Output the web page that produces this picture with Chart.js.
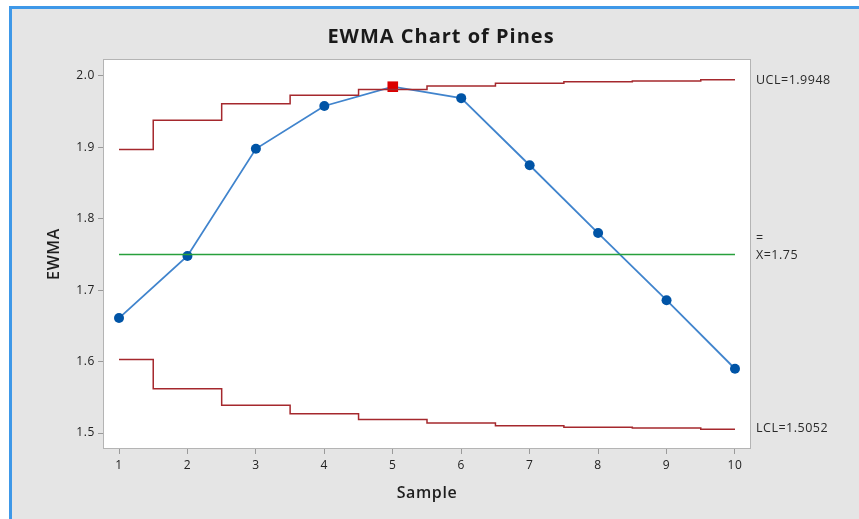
<!DOCTYPE html>
<html>
<head>
<meta charset="utf-8">
<script src="https://cdn.jsdelivr.net/npm/chart.js@4.4.1/dist/chart.umd.min.js"></script>
<style>
  html, body { margin: 0; padding: 0; background: #fff; }
  canvas { display: block; }
</style>
</head>
<body>
<canvas id="ewmaChart" width="859" height="519"></canvas>
<script>
var samples = [1, 2, 3, 4, 5, 6, 7, 8, 9, 10];
var ewma = [1.661, 1.748, 1.898, 1.958, 1.985, 1.969, 1.875, 1.780, 1.686, 1.590];
var ucl = [1.897, 1.938, 1.961, 1.973, 1.981, 1.986, 1.990, 1.992, 1.993, 1.9948];
var lcl = [1.603, 1.562, 1.539, 1.527, 1.519, 1.514, 1.510, 1.508, 1.507, 1.5052];
var center = 1.75;
var outOfControl = [5];
var limitLabels = { ucl: 'UCL=1.9948', center: 'X=1.75', lcl: 'LCL=1.5052' };

var FONT = "'Open Sans', 'Noto Sans', sans-serif";
var stepRed = 'rgb(165, 40, 45)';

function pts(ys) {
  return samples.map(function (s, i) { return { x: s, y: ys[i] }; });
}

var frame = {
  id: 'frame',
  beforeDraw: function (chart) {
    var c = chart.ctx, a = chart.chartArea;
    c.fillStyle = '#ffffff';
    c.fillRect(0, 0, chart.width, chart.height);
    c.fillStyle = 'rgb(62, 152, 232)';
    c.fillRect(9, 6, chart.width - 9, chart.height - 6);
    c.fillStyle = '#e5e5e5';
    c.fillRect(12, 9, chart.width - 12, chart.height - 9);
    c.fillStyle = '#ffffff';
    c.fillRect(a.left, a.top, a.right - a.left, a.bottom - a.top);
    // the source picture is a little stretched sideways
    c.letterSpacing = '0.6px';
  },
  afterDraw: function (chart) {
    var c = chart.ctx, a = chart.chartArea, y = chart.scales.y;
    c.save();
    c.strokeStyle = '#b4b4b4';
    c.lineWidth = 1;
    c.strokeRect(a.left + 0.5, a.top + 0.5, a.right - a.left - 1, a.bottom - a.top - 1);

    c.fillStyle = '#1a1a1a';
    c.font = 'bold 20px ' + FONT;
    c.letterSpacing = '1px';
    c.textAlign = 'center';
    c.textBaseline = 'middle';
    c.fillText('EWMA Chart of Pines', 441, 37);

    c.fillStyle = '#2a2a2a';
    c.font = '12.5px ' + FONT;
    c.letterSpacing = '0.5px';
    c.textAlign = 'left';
    var lx = a.right + 5;
    c.fillText(limitLabels.ucl, lx, y.getPixelForValue(ucl[ucl.length - 1]) + 1);
    c.fillText('=', lx, y.getPixelForValue(center) - 16);
    c.fillText(limitLabels.center, lx, y.getPixelForValue(center) + 1);
    c.fillText(limitLabels.lcl, lx, y.getPixelForValue(lcl[lcl.length - 1]) - 1);
    c.restore();
  }
};

var ctx = document.getElementById('ewmaChart').getContext('2d');
var chart = new Chart(ctx, {
  type: 'line',
  data: {
    datasets: [{
      label: 'UCL',
      data: pts(ucl),
      borderColor: stepRed,
      borderWidth: 1.5,
      stepped: 'middle',
      pointRadius: 0,
      fill: false
    }, {
      label: 'LCL',
      data: pts(lcl),
      borderColor: stepRed,
      borderWidth: 1.5,
      stepped: 'middle',
      pointRadius: 0,
      fill: false
    }, {
      label: 'Center',
      data: [{ x: samples[0], y: center }, { x: samples[samples.length - 1], y: center }],
      borderColor: 'rgb(40, 160, 60)',
      borderWidth: 1.5,
      pointRadius: 0,
      fill: false
    }, {
      label: 'EWMA',
      data: pts(ewma),
      borderColor: 'rgb(64, 132, 205)',
      borderWidth: 1.8,
      pointRadius: samples.map(function (s) { return outOfControl.indexOf(s) >= 0 ? 7.5 : 5; }),
      pointStyle: samples.map(function (s) { return outOfControl.indexOf(s) >= 0 ? 'rect' : 'circle'; }),
      pointBackgroundColor: samples.map(function (s) { return outOfControl.indexOf(s) >= 0 ? 'rgb(220, 0, 0)' : 'rgb(0, 84, 166)'; }),
      pointBorderColor: samples.map(function (s) { return outOfControl.indexOf(s) >= 0 ? 'rgb(220, 0, 0)' : 'rgb(0, 84, 166)'; }),
      pointBorderWidth: 0,
      fill: false
    }]
  },
  options: {
    responsive: false,
    animation: false,
    events: [],
    layout: { padding: { left: 0, right: 108, top: 59, bottom: 0 } },
    plugins: {
      legend: { display: false },
      title: { display: false },
      tooltip: { enabled: false }
    },
    scales: {
      x: {
        type: 'linear',
        min: 0.766,
        max: 10.234,
        border: { display: false },
        grid: { drawOnChartArea: false, tickLength: 5, color: '#9a9a9a' },
        ticks: {
          stepSize: 1,
          includeBounds: false,
          padding: 4,
          color: '#222222',
          font: { family: FONT, size: 12 },
          callback: function (v) { return v; }
        },
        title: {
          display: true,
          text: 'Sample',
          color: '#1e1e1e',
          font: { family: FONT, size: 16, weight: '600' },
          padding: { top: 0, bottom: 16 }
        },
        afterFit: function (s) { s.height = 70; }
      },
      y: {
        type: 'linear',
        min: 1.4776,
        max: 2.0238,
        border: { display: false },
        grid: { drawOnChartArea: false, tickLength: 5, color: '#9a9a9a' },
        ticks: {
          stepSize: 0.1,
          includeBounds: false,
          padding: 3,
          color: '#222222',
          font: { family: FONT, size: 12 },
          callback: function (v) { return v.toFixed(1); }
        },
        title: {
          display: true,
          text: 'EWMA',
          color: '#1e1e1e',
          font: { family: FONT, size: 16, weight: '600' },
          padding: { top: 45, bottom: 0 }
        },
        afterFit: function (s) { s.width = 103; }
      }
    }
  },
  plugins: [frame]
});
</script>
</body>
</html>
